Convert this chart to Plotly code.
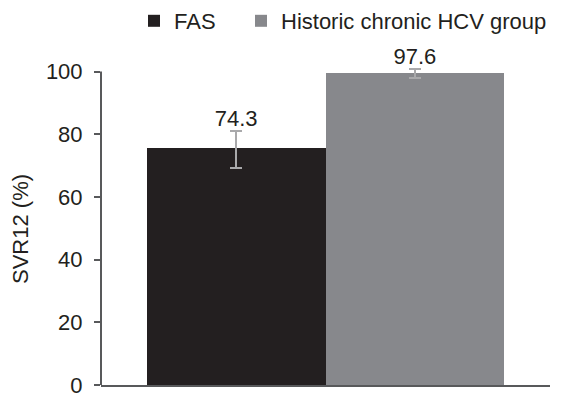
import plotly.graph_objects as go

categories = ["FAS", "Historic chronic HCV group"]
bar_values = [75.7, 99.4]
err_upper = [81.0, 100.7]
err_lower = [69.3, 97.9]
value_labels = ["74.3", "97.6"]
bar_colors = ["#231f20", "#87888c"]
y_ticks = [0, 20, 40, 60, 80, 100]

FONT = "Liberation Sans, Arial, sans-serif"
TXT = "#231f20"
FS = 22
AXC = "#58595b"

W, H = 569, 397
L, R, T, B = 101, 19, 34, 12
Y_MAX = 112
legend_names = ["legend", "legend2"]
legend_left_px = [134, 241]

fig = go.Figure()
for i, (cat, v) in enumerate(zip(categories, bar_values)):
    fig.add_trace(go.Bar(
        x=[i], y=[v], name=cat, width=1.0, legend=legend_names[i],
        marker=dict(color=bar_colors[i], line=dict(width=0)),
        error_y=dict(type="data", symmetric=False,
                     array=[err_upper[i] - v], arrayminus=[v - err_lower[i]],
                     color="#a9a9ab", thickness=2, width=6),
        cliponaxis=False,
    ))

fig.add_trace(go.Scatter(
    x=[0, 1], y=err_upper, mode="text", text=value_labels,
    textposition="top center", cliponaxis=False, showlegend=False,
    textfont=dict(size=FS, color=TXT, family=FONT), hoverinfo="skip",
))

# y-axis line only from 0 to 100
fig.add_shape(type="line", xref="paper", yref="y", x0=0, x1=0, y0=y_ticks[0], y1=y_ticks[-1],
              line=dict(color=AXC, width=2), layer="above")

fig.add_annotation(xref="paper", yref="paper", x=(20 - L) / (W - L - R),
                   y=(H - B - 229) / (H - T - B), xanchor="center", yanchor="middle",
                   text="SVR12 (%)", textangle=-90, showarrow=False,
                   font=dict(size=FS, color=TXT, family=FONT))

leg_common = dict(orientation="h", xanchor="left", yanchor="middle",
                  xref="container", yref="container", y=1 - 21 / H,
                  font=dict(size=FS, color=TXT, family=FONT),
                  bgcolor="rgba(0,0,0,0)", borderwidth=0)

fig.update_layout(
    width=W, height=H, margin=dict(l=L, r=R, t=T, b=B, autoexpand=False),
    paper_bgcolor="white", plot_bgcolor="white",
    font=dict(family=FONT, size=FS, color=TXT),
    bargap=0, showlegend=True,
    legend=dict(x=legend_left_px[0] / W, **leg_common),
    legend2=dict(x=legend_left_px[1] / W, **leg_common),
    xaxis=dict(range=[-0.756, 1.756], showticklabels=False, showgrid=False, zeroline=False,
               showline=True, linecolor=AXC, linewidth=2, ticks="", automargin=False),
    yaxis=dict(range=[0, Y_MAX], tickvals=y_ticks, showgrid=False, zeroline=False,
               showline=False, ticks="outside",
               ticklen=6, tickwidth=1.5, tickcolor=AXC, ticklabelstandoff=7,
               automargin=False, ticklabeloverflow="allow",
               tickfont=dict(size=FS, color=TXT, family=FONT)),
)

fig.write_html("out.html", config={"displayModeBar": False},
               post_script="document.body.style.margin='0';document.body.style.padding='0';")
